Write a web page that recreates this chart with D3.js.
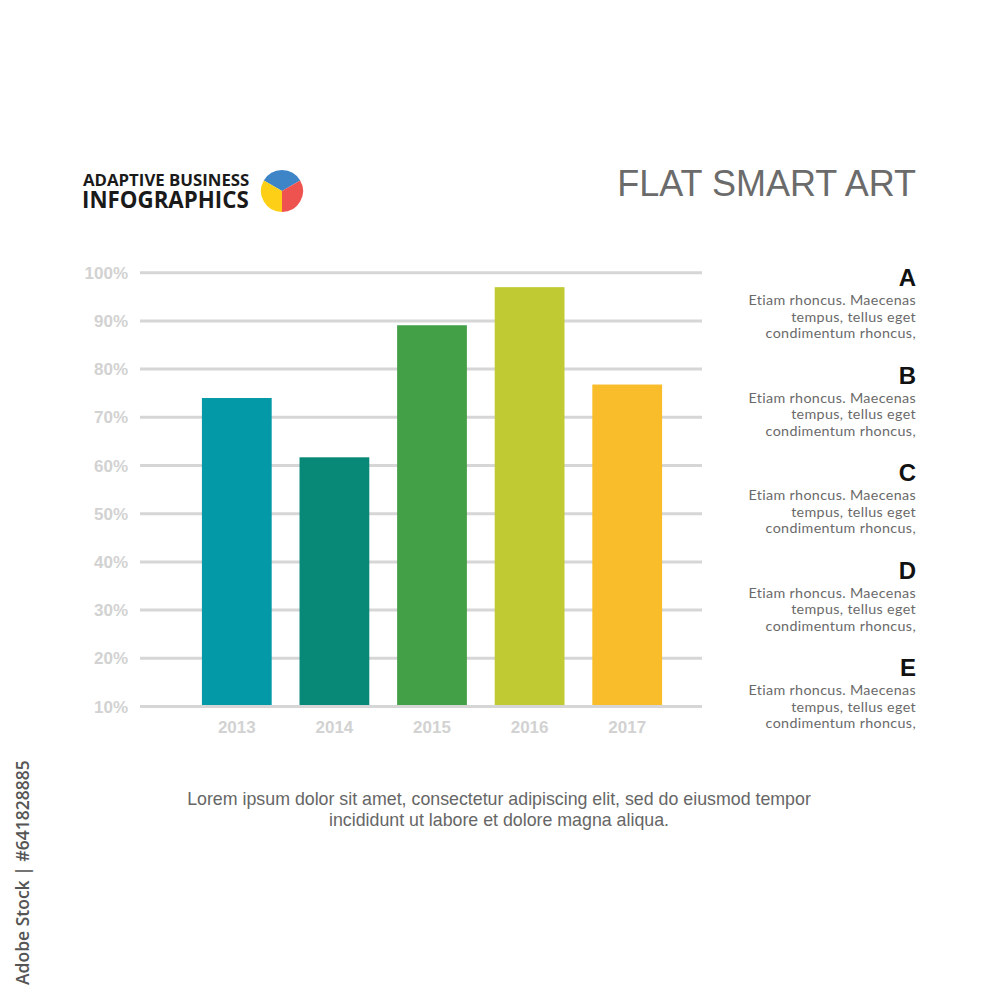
<!DOCTYPE html>
<html><head><meta charset="utf-8">
<script src="https://cdn.jsdelivr.net/npm/d3@7"></script>
<style>body{margin:0;background:#fff}svg{display:block}</style>
</head><body>
<svg id="c" width="1000" height="1000"></svg>
<script>
const categories = ["2013","2014","2015","2016","2017"];
const values = [74, 61.7, 89.1, 97, 76.8];
const colors = ["#0399a6","#088877","#43a047","#c0ca33","#f9bd2c"];
const yTicks = [10,20,30,40,50,60,70,80,90,100];
const legendLetters = ["A","B","C","D","E"];
const legendLines = ["Etiam rhoncus. Maecenas","tempus, tellus eget","condimentum rhoncus,"];
const footerLines = ["Lorem ipsum dolor sit amet, consectetur adipiscing elit, sed do eiusmod tempor","incididunt ut labore et dolore magna aliqua."];
const pieSlices = [{v:1,c:"#3d85c6"},{v:1,c:"#ef5350"},{v:1,c:"#fdd017"}];

const svg = d3.select("#c");
svg.append("rect").attr("width",1000).attr("height",1000).attr("fill","#fff");

const y = d3.scaleLinear().domain([10,100]).range([706.5,272.7]);
const x = d3.scaleBand().domain(categories).range([188,676]).paddingInner(0.285).paddingOuter(0.1425);

const g = svg.append("g");
g.selectAll("line.grid").data(yTicks).join("line")
  .attr("x1",140).attr("x2",702)
  .attr("y1",d=>y(d)).attr("y2",d=>y(d))
  .attr("stroke","#d6d6d6").attr("stroke-width",3);

g.selectAll("text.yl").data(yTicks).join("text")
  .attr("x",128).attr("y",d=>y(d)+6)
  .attr("text-anchor","end")
  .attr("font-family","Liberation Sans, Arial, sans-serif")
  .attr("font-weight","bold").attr("font-size",17)
  .attr("fill","#d2d2d2").text(d=>d+"%");

g.selectAll("rect.bar").data(values).join("rect")
  .attr("x",(d,i)=>x(categories[i]))
  .attr("width",x.bandwidth())
  .attr("y",d=>y(d))
  .attr("height",d=>y(10)-y(d)-1.5)
  .attr("fill",(d,i)=>colors[i]);

g.selectAll("text.xl").data(categories).join("text")
  .attr("x",d=>x(d)+x.bandwidth()/2).attr("y",733)
  .attr("text-anchor","middle")
  .attr("font-family","Liberation Sans, Arial, sans-serif")
  .attr("font-weight","bold").attr("font-size",17)
  .attr("fill","#d2d2d2").text(d=>d);

svg.append("text").attr("x",916).attr("y",196).attr("text-anchor","end")
  .attr("font-family","Liberation Sans, Arial, sans-serif").attr("font-size",36)
  .attr("fill","#6b6b6b").text("FLAT SMART ART");

svg.append("text").attr("x",83).attr("y",186)
  .attr("font-family","Open Sans, sans-serif").attr("font-weight","bold").attr("font-size",16.8)
  .attr("fill","#1a1a1a").text("ADAPTIVE BUSINESS");
svg.append("text").attr("x",82).attr("y",208)
  .attr("font-family","Open Sans, sans-serif").attr("font-weight","bold").attr("font-size",22.3)
  .attr("fill","#1a1a1a").text("INFOGRAPHICS");
const pie = d3.pie().value(d=>d.v).sort(null).startAngle(-Math.PI/3).endAngle(Math.PI*5/3);
const arc = d3.arc().innerRadius(0).outerRadius(21);
svg.append("g").attr("transform","translate(282,191)")
  .selectAll("path").data(pie(pieSlices)).join("path")
  .attr("d",arc).attr("fill",d=>d.data.c);

const leg = svg.append("g");
legendLetters.forEach((L,i)=>{
  const top = 286 + i*97.5;
  leg.append("text").attr("x",916).attr("y",top).attr("text-anchor","end")
    .attr("font-family","Liberation Sans, Arial, sans-serif").attr("font-weight","bold")
    .attr("font-size",24).attr("fill","#111").text(L);
  legendLines.forEach((t,j)=>{
    leg.append("text").attr("x",916).attr("y",top+19+j*16.5).attr("text-anchor","end")
      .attr("font-family","Lato, Open Sans, sans-serif").attr("font-size",14.3)
      .attr("letter-spacing",0.35)
      .attr("fill","#6a6a6a").text(t);
  });
});

footerLines.forEach((t,j)=>{
  svg.append("text").attr("x",499).attr("y",805+j*20.5).attr("text-anchor","middle")
    .attr("font-family","Liberation Sans, Arial, sans-serif").attr("font-size",17.8)
    .attr("fill","#666").text(t);
});

svg.append("text").attr("transform","translate(29,985) rotate(-90)")
  .attr("font-family","Open Sans, sans-serif").attr("font-size",17.5).attr("font-weight","600")
  .attr("fill","#555").text("Adobe Stock | #641828885");
</script>
</body></html>
